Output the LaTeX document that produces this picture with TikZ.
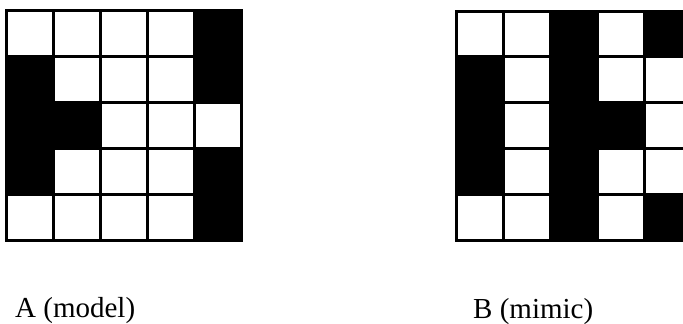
\documentclass[tikz,border=0pt]{standalone}
\usepackage{fontspec}
\setmainfont{Liberation Serif}
\begin{document}
\begin{tikzpicture}[x=1pt,y=-1pt,
  cell0/.style={draw=black,line width=3pt,fill=white},
  cell1/.style={draw=black,line width=3pt,fill=black},
  caption/.style={anchor=base west,inner sep=0pt,font=\fontsize{29}{34}\selectfont}]
  \useasboundingbox (0,0) rectangle (683,324);
  % grid A (model)
  \foreach \row [count=\r from 0] in {{0,0,0,0,1},{1,0,0,0,1},{1,1,0,0,0},{1,0,0,0,1},{0,0,0,0,1}}
    \foreach \v [count=\c from 0] in \row
      \draw[cell\v] ({6+47*\c},{10+46*\r}) rectangle ++(47,46);
  % grid B (mimic), right column cut by the page edge
  \foreach \row [count=\r from 0] in {{0,0,1,0,1},{1,0,1,0,0},{1,0,1,1,0},{1,0,1,0,0},{0,0,1,0,1}}
    \foreach \v [count=\c from 0] in \row
      \draw[cell\v] ({456+47*\c},{11+45.8*\r}) rectangle ++(47,45.8);
  \node[caption] (modelcap) at (15,317) {A (model)};
  \node[caption] (mimiccap) at (473,318) {B (mimic)};
\end{tikzpicture}
\end{document}
